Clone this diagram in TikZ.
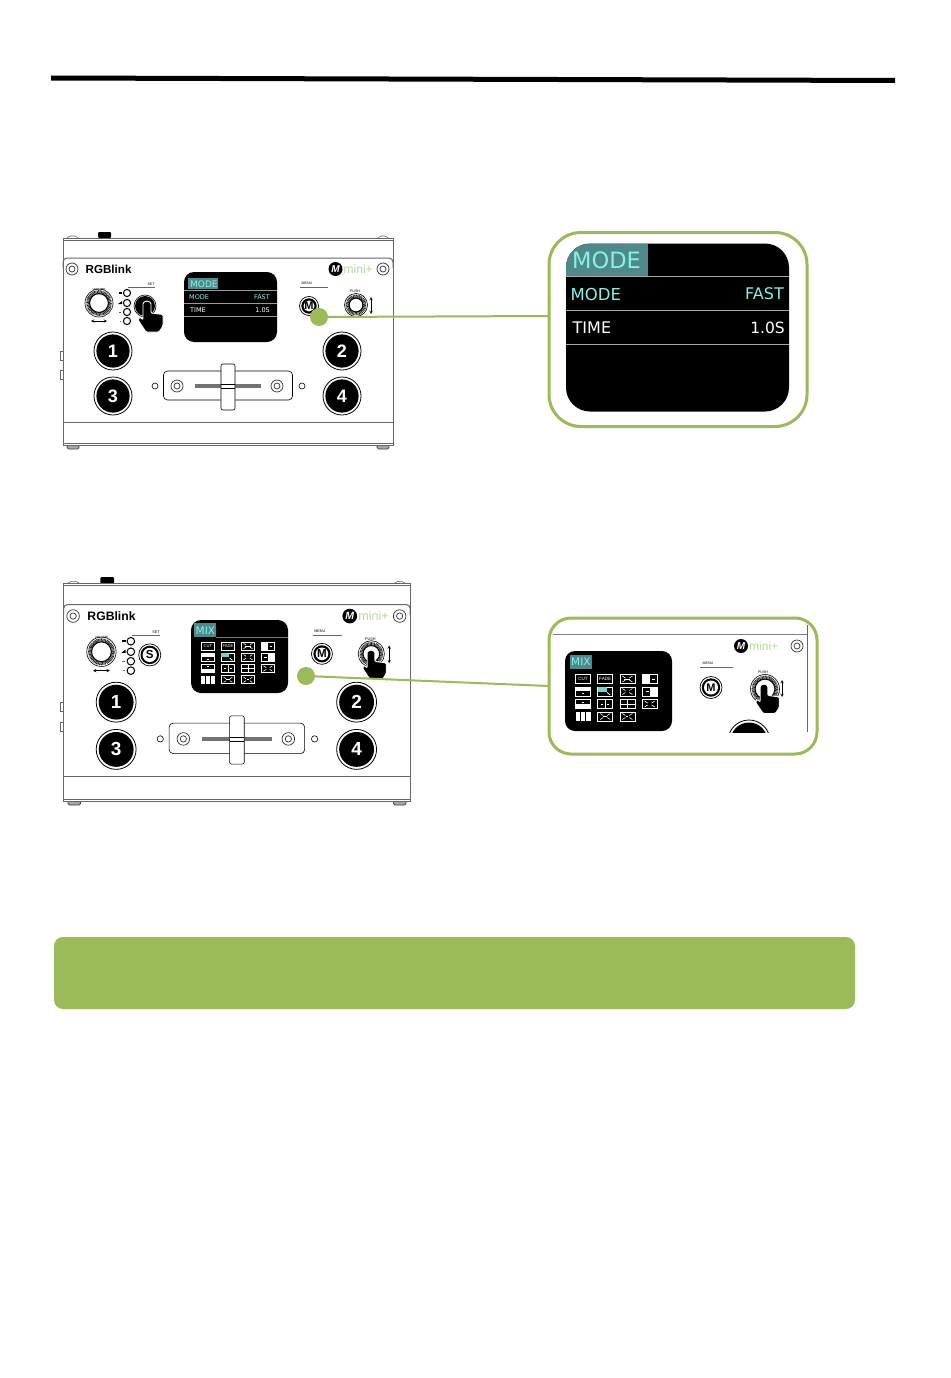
\documentclass[tikz,border=0pt]{standalone}
\usepackage{fontspec}
\setmainfont{DejaVu Sans}
\newfontfamily\lsans{Liberation Sans}
\newfontfamily\dbold{DejaVu Sans}
\usetikzlibrary{calc}
\definecolor{grn}{HTML}{9BBB59}
\definecolor{teal1}{HTML}{4F8A8B}
\definecolor{cyan1}{HTML}{86F2E8}
\definecolor{mintxt}{HTML}{B5D99C}
\definecolor{edge}{HTML}{666666}
\tikzset{
  body/.style={draw=edge,line width=.7,fill=white},
  fineline/.style={draw=edge,line width=.6},
  ringb/.style={draw=black!80,line width=.7,fill=white},
  blk/.style={fill=black,draw=none},
  tiny/.style={font=\lsans\fontsize{3.6}{4}\selectfont,text=black,inner sep=0},
  num/.style={font=\lsans\bfseries\fontsize{18}{18}\selectfont,text=white,inner sep=0},
  callout/.style={draw=grn,line width=3,fill=white,minimum width=0,inner sep=0},
  gdot/.style={circle,fill=grn,draw=none,minimum size=18pt,inner sep=0},
  glink/.style={draw=grn,line width=2},
  scr/.style={fill=black,draw=none},
  lbl/.style={inner sep=0,text=white},
  ic/.style={draw=white,line width=.7},
}
\newcommand{\screw}[2]{%
  \draw[ringb] (#1,#2) circle (6);
  \draw[ringb] (#1,#2) circle (3);}
\newcommand{\mlogo}[2]{%
  \fill[black] (#1,#2) circle (7);
  \node[inner sep=0,text=white,font=\lsans\bfseries\itshape\fontsize{10}{10}\selectfont] (mlogo) at (#1,#2) {M};
  \node[anchor=west,inner sep=0,text=mintxt,font=\lsans\fontsize{12}{12}\selectfont] (mtext) at (#1+8,#2) {mini+};}
\newcommand{\hatchknob}[3]{% x y r
  \draw[black,line width=.6] (#1,#2) circle (#3);
  \draw[black!85,line width=3.4,dash pattern=on .8pt off .6pt] (#1,#2) circle (#3-2.8);
  \fill[white] (#1,#2) circle (#3-4.6);
  \draw[black,line width=1] (#1,#2) circle (#3-4.6);}
\newcommand{\handshape}[3]{% x y scale
  \begin{scope}[shift={(#1,#2)},scale=#3]
    \draw[white,fill=black,line width=.9,rounded corners=1.2]
      (-4,13) -- (-4,3) arc (180:360:4) -- (4,11) -- (16,12.5) -- (16,24) -- (12,30) -- (-1,30) -- (-9,18) -- (-7,15) -- (-4,18) -- cycle;
  \end{scope}}
\newcommand{\mbutton}[3]{% x y r
  \draw[black,line width=.7,fill=white] (#1,#2) circle (#3);
  \fill[black] (#1,#2) circle (#3-1.8);
  \fill[white] (#1,#2) circle (#3-4);
  \node[inner sep=0,text=black,font=\lsans\bfseries\fontsize{11}{11}\selectfont] (mbtnlabel) at (#1,#2) {M};}
\newcommand{\bigbtn}[3]{% x y label
  \draw[black,line width=.8,fill=white] (#1,#2) circle (19);
  \fill[black] (#1,#2) circle (16.6);
  \node[num] (btn#3) at (#1,#2) {#3};}
\newcommand{\devicebody}{%
  % top block and feet
  \fill[black,rounded corners=1] (98,232) rectangle (111,238);
  \draw[fineline,fill=white,rounded corners=1.5] (67,238) -- (69,236) -- (76,236) -- (78,238);
  \draw[fineline,fill=white,rounded corners=1.5] (378,238) -- (380,236) -- (386,236) -- (388,238);
  \draw[fineline,fill=white] (60,351) rectangle (63,360);
  \draw[fineline,fill=white] (60,370) rectangle (63,379);
  \draw[black!75,line width=.7,fill=black!35,rounded corners=1.5] (67,445) rectangle (79,449);
  \draw[black!75,line width=.7,fill=black!35,rounded corners=1.5] (377,445) rectangle (389,449);
  % case
  \draw[body] (63,238) rectangle (393,445);
  \draw[edge,line width=.5] (63,240) -- (393,240);
  \draw[edge,line width=.5] (63,443) -- (393,443);
  \draw[edge,line width=1,rounded corners=4] (63,268) -- (63,258) -- (393,258) -- (393,268);
  \draw[edge,line width=.6] (63,422) -- (393,422);
  % front panel
  \screw{72}{269}
  \screw{383}{269}
  \node[anchor=west,inner sep=0,text=black,font=\lsans\bfseries\fontsize{11.6}{12}\selectfont] (brand) at (85.5,269) {RGBlink};
  \mlogo{335.5}{269}
  % SET and MENU
  \node[tiny] (setlabel) at (151,284) {SET};
  \draw[fineline] (128,287) -- (155,287);
  \node[tiny] (menulabel) at (307,283) {MENU};
  \draw[fineline] (300,287) -- (328,287);
  % left knob
  \node[tiny,font=\lsans\fontsize{3}{3}\selectfont] (vollabel) at (99,289) {VOLUME};
  \hatchknob{99}{303}{14}
  \draw[black,line width=.5,<->,>=stealth] (91,321) -- (107,321);
  % LEDs
  \foreach \yy/\mm in {293/a,303/b,312/c,321/d}{
    \draw[black,line width=1,fill=white] (127,\yy) circle (3.6);
  }
  \fill[black] (119,292) rectangle (122,294);
  \fill[black] (118,304) -- (122,301) -- (122,304) -- cycle;
  \fill[edge] (119,311.5) rectangle (121,312.5);
  \fill[edge] (119.5,320.5) rectangle (121,321.5);
  % fader
  \draw[black,line width=.6,rounded corners=4] (163.5,371) rectangle (292.5,400);
  \draw[black,line width=.6] (155,386) circle (3);
  \draw[black,line width=.6] (302,386) circle (3);
  \screw{177}{386}
  \screw{277}{386}
  \fill[black!55] (195,384) rectangle (261,388);
  \draw[black,line width=.6,fill=white,rounded corners=2] (221,364) rectangle (235,410);
  \draw[black,line width=.5] (221,384) -- (235,384);
  \draw[black,line width=.5] (221,388) -- (235,388);
  % big buttons
  \bigbtn{113}{351}{1}
  \bigbtn{342}{351}{2}
  \bigbtn{113}{396}{3}
  \bigbtn{342}{396}{4}
}
\newcommand{\ico}[3]{\begin{scope}[shift={(22.2*#1,12.5*#2)}]#3\end{scope}}
\newcommand{\icbox}{\draw[ic] (-7.5,-4.5) rectangle (7.5,4.5);}
\newcommand{\icmarks}{\draw[white,line width=.6] (-5,-3) -- (-2,-1) (5,-3) -- (2,-1) (-5,3) -- (-2,1) (5,3) -- (2,1);}
\newcommand{\mixgrid}[3]{% x y scale
 \begin{scope}[shift={(#1,#2)},scale=#3,transform shape]
  \tikzset{ct/.style={inner sep=0,text=white,font=\lsans\fontsize{4.6}{4.6}\selectfont}}
  \ico{0}{0}{\icbox\node[ct] (cutlabel) at (0,0) {CUT};}
  \ico{1}{0}{\icbox\node[ct] (fadelabel) at (0,0) {FADE};}
  \ico{2}{0}{\icbox\icmarks\draw[white,line width=.8] (-3,0) -- (3,0);}
  \ico{3}{0}{\icbox\fill[white] (-7.5,-4.5) rectangle (0,4.5);\draw[white,line width=.8] (2,0) -- (5,0);}
  \ico{0}{1}{\icbox\fill[white] (-7.5,-4.5) rectangle (7.5,-.5);\draw[white,line width=.8] (-1,2) -- (1,2);}
  \ico{1}{1}{\icbox\fill[cyan1!70!teal1] (-7.5,-4.5) rectangle (1.5,0);\draw[white,line width=.8] (2,1) -- (5,3.5);}
  \ico{2}{1}{\icbox\icmarks}
  \ico{3}{1}{\icbox\fill[white] (0,-4.5) rectangle (7.5,4.5);\draw[white,line width=.8] (-4,0) -- (-1,0);}
  \ico{0}{2}{\icbox\fill[white] (-7.5,0) rectangle (7.5,4.5);\draw[white,line width=.8] (-1,-2) -- (1,-2);}
  \ico{1}{2}{\icbox\draw[white,line width=.7] (0,-4.5) -- (0,4.5) (-4,0) -- (-2,0) (2,0) -- (4,0);}
  \ico{2}{2}{\icbox\draw[white,line width=.7] (0,-4.5) -- (0,4.5) (-7.5,0) -- (7.5,0);}
  \ico{3}{2}{\icbox\icmarks}
  \ico{0}{3}{\fill[white] (-7.5,-4.5) rectangle (7.5,4.5);\draw[black,line width=.8] (-2.5,-4.5) -- (-2.5,4.5) (2.5,-4.5) -- (2.5,4.5);}
  \ico{1}{3}{\icbox\icmarks\draw[white,line width=.8] (-2,0) -- (2,0);}
  \ico{2}{3}{\icbox\icmarks\draw[white,line width=.8] (-1,0) -- (1,0);}
 \end{scope}}
\begin{document}
\begin{tikzpicture}[x=1pt,y=-1pt]
\useasboundingbox (0,0) rectangle (950,1378);
\fill[white] (0,0) rectangle (950,1378);
% header rule
\fill[black] (51,75.5) -- (895,78) -- (895,83) -- (51,80.5) -- cycle;
% ---- device 1
\begin{scope}[name prefix=da-]
  \devicebody
  \node[scr,rounded corners=10,minimum width=93pt,minimum height=70pt,inner sep=0] (screen) at (230.5,307) {};
  \fill[teal1] (188,277.5) rectangle (218,289);
  \node[anchor=west,lbl,text=cyan1,font=\fontsize{9}{9}\selectfont] (title) at (190,284) {MODE};
  \draw[white!60!black,line width=.3] (184,290) -- (277,290) (184,303) -- (277,303) (184,316) -- (277,316);
  \node[anchor=west,lbl,text=cyan1,font=\fontsize{6.5}{7}\selectfont] (modekey) at (189,297) {MODE};
  \node[anchor=east,lbl,text=cyan1,font=\fontsize{6.5}{7}\selectfont] (modeval) at (270,297) {FAST};
  \node[anchor=west,lbl,font=\fontsize{6.5}{7}\selectfont] (timekey) at (190,310) {TIME};
  \node[anchor=east,lbl,font=\fontsize{6.5}{7}\selectfont] (timeval) at (270,310) {1.0S};
  \fill[black] (145,306) circle (10);
  \draw[black,line width=.6] (145,306) circle (11);
  \handshape{147}{302}{1}
  \mbutton{309}{306}{9.5}
  \node[tiny] (pushlabel) at (355,291) {PUSH};
  \hatchknob{356}{305}{11.5}
  \draw[black,line width=.5,<->,>=stealth] (371,297) -- (371,314);
  \node[gdot] (dot) at (319,317) {};
\end{scope}
% ---- device 2
\begin{scope}[name prefix=db-]
  \begin{scope}[shift={(-2.5,333.6)},scale=1.05,transform shape]
    \devicebody
    \node[tiny] (pushlabel) at (355,291) {PUSH};
    \hatchknob{356}{305}{12.5}
    \draw[black,line width=.5,<->,>=stealth] (373,297) -- (373,314);
    \mbutton{309}{305}{10}
    \draw[black,line width=.7,fill=white] (145,306) circle (10.5);
    \fill[black] (145,306) circle (8.8);
    \fill[white] (145,306) circle (6.8);
    \node[inner sep=0,text=black,font=\lsans\bfseries\fontsize{11}{11}\selectfont] (slabel) at (145,306) {S};
  \end{scope}
  \node[scr,rounded corners=10,minimum width=97pt,minimum height=73pt,inner sep=0] (screen) at (239.5,656.5) {};
  \fill[teal1] (194,623) rectangle (216,637);
  \node[anchor=west,lbl,text=cyan1,font=\fontsize{10.5}{11}\selectfont] (title) at (195.5,630.5) {MIX};
  \draw[white!45!black,line width=.3] (216,637) -- (288,637);
  \mixgrid{208}{646}{.9}
  \handshape{371}{651}{.95}
  \node[gdot] (dot) at (306,676) {};
\end{scope}
% ---- callout 1
\node[callout,rounded corners=32,minimum width=258pt,minimum height=194pt] (cA) at (678,329.5) {};
\node[scr,rounded corners=24,minimum width=223pt,minimum height=168pt,inner sep=0] (cAscreen) at (677.5,327.5) {};
\begin{scope}
  \clip[rounded corners=24] (566,243.5) rectangle (789,411.5);
  \fill[teal1] (566,243.5) rectangle (648,277);
\end{scope}
\draw[white!65!black,line width=.5] (566,276.5) -- (789,276.5) (566,310.5) -- (789,310.5) (566,344.5) -- (789,344.5);
\node[anchor=west,lbl,text=cyan1,font=\fontsize{22.5}{23}\selectfont] (cAtitle) at (572,260.5) {MODE};
\node[anchor=west,lbl,text=cyan1,font=\fontsize{16.5}{17}\selectfont] (cAkey) at (570.5,294) {MODE};
\node[anchor=east,lbl,text=cyan1,font=\fontsize{16}{17}\selectfont] (cAval) at (784,294) {FAST};
\node[anchor=west,lbl,font=\fontsize{16}{17}\selectfont] (cAtime) at (572.5,328) {TIME};
\node[anchor=east,lbl,font=\fontsize{15.5}{17}\selectfont] (cAsec) at (785,328) {1.0S};
% ---- callout 2
\node[callout,rounded corners=22,minimum width=268pt,minimum height=136pt] (cB) at (683,686) {};
\draw[black!50,line width=1] (553,634) -- (807,634);
\draw[black!60,line width=.8] (807,625) -- (807,732);
\screw{797}{646}
\begin{scope}[name prefix=cb-]
  \mlogo{741}{646}
  \node[tiny] (menulabel) at (708,663) {MENU};
  \draw[fineline] (700,667) -- (733,667);
  \mbutton{711}{687.5}{11}
  \node[tiny] (pushlabel) at (763,672) {PUSH};
  \hatchknob{765}{689}{14.5}
  \draw[black,line width=.5,<->,>=stealth] (782,680) -- (782,697);
  \handshape{764}{685}{.95}
\end{scope}
\begin{scope}
  \clip (720,715) rectangle (780,732);
  \draw[black,line width=.8,fill=white] (749,741) circle (21);
  \fill[black] (749,741) circle (18.5);
\end{scope}
\node[scr,rounded corners=10,minimum width=107pt,minimum height=80pt,inner sep=0] (cBscreen) at (618.5,691) {};
\fill[teal1] (570,655) rectangle (592,669);
\node[anchor=west,lbl,text=cyan1,font=\fontsize{10.5}{11}\selectfont] (cBtitle) at (571,662) {MIX};
\mixgrid{583}{679}{1}
% ---- connectors
\coordinate (inA) at (549,316);
\coordinate (inB) at (549,686);
\draw[glink] (da-dot) -- (inA);
\draw[glink] (db-dot) -- (inB);
% ---- banner
\node[fill=grn,draw=none,rounded corners=9,minimum width=801pt,minimum height=72pt,inner sep=0] (banner) at (454.5,973) {};
\end{tikzpicture}
\end{document}
